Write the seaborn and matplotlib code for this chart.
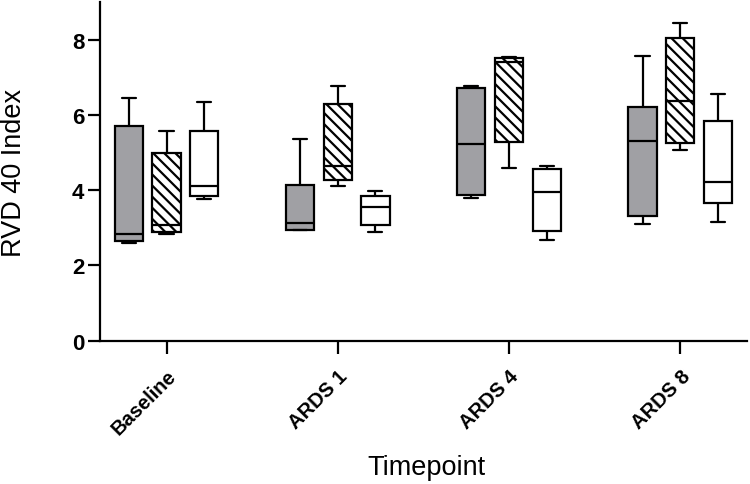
import matplotlib
matplotlib.use('Agg')
import matplotlib.pyplot as plt
import seaborn as sns
import pandas as pd
import numpy as np

# timepoints on the x axis and the three groups (legend is not shown)
timepoints = ['Baseline', 'ARDS 1', 'ARDS 4', 'ARDS 8']
groups = ['Group 1', 'Group 2', 'Group 3']

# five values per box: min, q1, median, q3, max
group1 = [[2.60, 2.64, 2.83, 5.70, 6.44],
          [2.93, 2.95, 3.13, 4.13, 5.35],
          [3.80, 3.87, 5.22, 6.71, 6.76],
          [3.11, 3.32, 5.30, 6.21, 7.56]]
group2 = [[2.84, 2.89, 3.07, 4.98, 5.58],
          [4.10, 4.26, 4.64, 6.28, 6.77],
          [4.60, 5.27, 7.40, 7.52, 7.54],
          [5.06, 5.25, 6.37, 8.05, 8.43]]
group3 = [[3.76, 3.84, 4.12, 5.57, 6.35],
          [2.88, 3.07, 3.54, 3.85, 3.97],
          [2.68, 2.92, 3.96, 4.56, 4.64],
          [3.14, 3.65, 4.21, 5.83, 6.56]]

rows = []
for g, vals in zip(groups, [group1, group2, group3]):
  for tp, v in zip(timepoints, vals):
    for x in v:
      rows.append({'Timepoint': tp, 'Group': g, 'RVD': x})
df = pd.DataFrame(rows)

sns.set_theme(style="ticks")
plt.rcParams['hatch.linewidth'] = 1.6
plt.rcParams['hatch.color'] = 'black'
plt.rcParams['text.color'] = 'black'
plt.rcParams['axes.labelcolor'] = 'black'
plt.rcParams['xtick.color'] = 'black'
plt.rcParams['ytick.color'] = 'black'
tick_font = ['Liberation Sans', 'DejaVu Sans']
label_font = ['Liberation Sans', 'DejaVu Sans']

f, ax = plt.subplots(figsize=(7.5, 4.85), dpi=100)
plt.subplots_adjust(left=0.133, right=0.996, top=0.994, bottom=0.2955)

palette = {'Group 1': '#a0a0a4', 'Group 2': '#fefefe', 'Group 3': 'white'}
sns.boxplot(data=df, x='Timepoint', y='RVD', hue='Group', order=timepoints,
            hue_order=groups, palette=palette, whis=(0, 100), width=0.66,
            gap=0.25, linecolor='black', linewidth=1.6, saturation=1,
            legend=False, ax=ax)

# hatch the middle group
for c, g in zip(ax.containers, groups):
  if g == 'Group 2':
    for b in c.boxes:
      b.set_hatch('\\\\\\')
      b.set_facecolor('white')

ax.set_ylim(0, 9)
ax.set_xlim(-0.39, 3.39)
ax.set_yticks([0, 2, 4, 6, 8])
sns.despine(ax=ax)
for s in ['left', 'bottom']:
  ax.spines[s].set_linewidth(1.6)
  ax.spines[s].set_color('black')
ax.tick_params(axis='both', length=9, width=1.6, color='black', labelcolor='black')
ax.tick_params(axis='y', pad=2)
ax.tick_params(axis='x', pad=9)

ax.set_yticklabels(['0', '2', '4', '6', '8'], family=tick_font,
                   fontweight='bold', fontsize=16)
ax.set_xticklabels(timepoints, family=tick_font, fontweight='bold',
                   fontsize=14.5, rotation=45, ha='right', rotation_mode='anchor')

ax.set_xlabel('Timepoint', family=label_font, fontsize=19.5, color='black')
ax.set_ylabel('RVD 40 Index', family=label_font, fontsize=19.5, color='black')
ax.xaxis.set_label_coords(0.505, -0.335)
ax.yaxis.set_label_coords(-0.112, 0.497)

plt.savefig('out.png', dpi=100)
plt.close()
